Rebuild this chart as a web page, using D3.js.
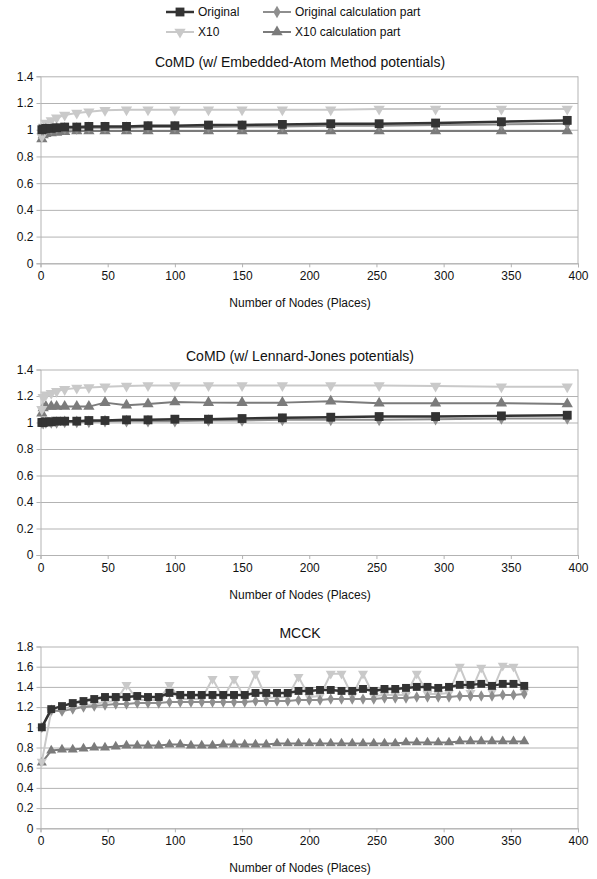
<!DOCTYPE html>
<html>
<head>
<meta charset="utf-8">
<script src="https://cdn.jsdelivr.net/npm/d3@7"></script>
<style>
  body { margin: 0; background: #fff; }
  svg { display: block; font-family: "Liberation Sans", Arial, sans-serif; }
  .tick text { font-size: 12px; fill: #111; }
  .chart-title { font-size: 14px; fill: #111; }
  .axis-title { font-size: 12px; fill: #111; }
  .legend-text { font-size: 12px; fill: #111; }
</style>
</head>
<body>
<div id="chart"></div>
<script>
var seriesNames = ["Original", "Original calculation part", "X10", "X10 calculation part"];

// CoMD node counts
var comdNodes = [1, 2, 4, 8, 12, 18, 27, 36, 48, 64, 80, 100, 125, 150, 180, 216, 252, 294, 343, 392];

// CoMD, Embedded-Atom Method
var eamOriginal     = [1.00, 1.005, 1.01, 1.01, 1.015, 1.02, 1.02, 1.025, 1.025, 1.025, 1.03, 1.03, 1.035, 1.035, 1.04, 1.045, 1.045, 1.05, 1.06, 1.07];
var eamOriginalCalc = [1.00, 1.00, 1.005, 1.005, 1.01, 1.01, 1.01, 1.015, 1.015, 1.015, 1.02, 1.02, 1.02, 1.025, 1.025, 1.03, 1.03, 1.035, 1.04, 1.045];
var eamX10          = [0.95, 1.02, 1.05, 1.07, 1.09, 1.11, 1.125, 1.135, 1.145, 1.15, 1.15, 1.15, 1.15, 1.15, 1.15, 1.15, 1.155, 1.155, 1.155, 1.155];
var eamX10Calc      = [0.93, 0.96, 0.97, 0.975, 0.98, 0.985, 0.99, 0.99, 0.99, 0.99, 0.99, 0.99, 0.99, 0.99, 0.99, 0.99, 0.99, 0.99, 0.99, 0.99];

// CoMD, Lennard-Jones
var ljOriginal     = [1.00, 1.00, 1.005, 1.005, 1.01, 1.01, 1.01, 1.015, 1.015, 1.02, 1.02, 1.025, 1.025, 1.03, 1.035, 1.04, 1.045, 1.045, 1.05, 1.055];
var ljOriginalCalc = [1.00, 0.995, 1.00, 1.00, 1.00, 1.005, 1.005, 1.005, 1.01, 1.01, 1.01, 1.01, 1.015, 1.015, 1.02, 1.02, 1.02, 1.025, 1.03, 1.03];
var ljX10          = [1.10, 1.19, 1.21, 1.22, 1.235, 1.25, 1.26, 1.265, 1.27, 1.275, 1.28, 1.28, 1.28, 1.28, 1.28, 1.28, 1.28, 1.275, 1.27, 1.27];
var ljX10Calc      = [1.07, 1.11, 1.12, 1.12, 1.12, 1.12, 1.12, 1.12, 1.15, 1.13, 1.14, 1.155, 1.15, 1.15, 1.15, 1.16, 1.145, 1.145, 1.145, 1.14];

// MCCK node counts
var mcckNodes = [1, 8, 16, 24, 32, 40, 48, 56, 64, 72,
                 80, 88, 96, 104, 112, 120, 128, 136, 144, 152,
                 160, 168, 176, 184, 192, 200, 208, 216, 224, 232,
                 240, 248, 256, 264, 272, 280, 288, 296, 304, 312,
                 320, 328, 336, 344, 352, 360];

var mcckOriginal = [1.00, 1.18, 1.21, 1.24, 1.26, 1.28, 1.30, 1.30, 1.30, 1.31,
                    1.30, 1.30, 1.34, 1.32, 1.32, 1.32, 1.32, 1.32, 1.32, 1.32,
                    1.34, 1.34, 1.34, 1.34, 1.36, 1.36, 1.37, 1.37, 1.36, 1.36,
                    1.38, 1.36, 1.38, 1.38, 1.39, 1.40, 1.40, 1.39, 1.40, 1.42,
                    1.42, 1.43, 1.41, 1.43, 1.43, 1.41];
var mcckOriginalCalc = [1.00, 1.17, 1.16, 1.18, 1.20, 1.21, 1.22, 1.23, 1.23, 1.24,
                        1.24, 1.24, 1.25, 1.25, 1.25, 1.25, 1.25, 1.25, 1.25, 1.25,
                        1.26, 1.26, 1.26, 1.26, 1.27, 1.27, 1.27, 1.28, 1.28, 1.28,
                        1.28, 1.28, 1.29, 1.29, 1.29, 1.30, 1.30, 1.30, 1.30, 1.31,
                        1.31, 1.31, 1.31, 1.32, 1.32, 1.33];
var mcckX10 = [0.66, 1.16, 1.17, 1.19, 1.21, 1.23, 1.25, 1.26, 1.42, 1.27,
               1.27, 1.27, 1.42, 1.28, 1.28, 1.28, 1.48, 1.29, 1.48, 1.29,
               1.53, 1.29, 1.30, 1.30, 1.50, 1.30, 1.31, 1.53, 1.53, 1.31,
               1.53, 1.31, 1.32, 1.32, 1.32, 1.53, 1.33, 1.33, 1.34, 1.60,
               1.34, 1.59, 1.35, 1.61, 1.60, 1.35];
var mcckX10Calc = [0.65, 0.77, 0.78, 0.78, 0.79, 0.80, 0.80, 0.81, 0.82, 0.82,
                   0.82, 0.82, 0.83, 0.83, 0.82, 0.82, 0.82, 0.83, 0.83, 0.83,
                   0.83, 0.83, 0.84, 0.84, 0.84, 0.84, 0.84, 0.84, 0.84, 0.84,
                   0.84, 0.84, 0.84, 0.84, 0.85, 0.85, 0.85, 0.85, 0.85, 0.86,
                   0.86, 0.86, 0.86, 0.86, 0.86, 0.86];

var xTicks = [0, 50, 100, 150, 200, 250, 300, 350, 400];
var comdYTicks = [0, 0.2, 0.4, 0.6, 0.8, 1, 1.2, 1.4];
var mcckYTicks = [0, 0.2, 0.4, 0.6, 0.8, 1, 1.2, 1.4, 1.6, 1.8];

var WIDTH = 597, HEIGHT = 879;
var PLOT_LEFT = 40.5, PLOT_RIGHT = 578;
var GRID = "#b3b3b3";

var STYLES = [
    { color: "#333333", symbol: d3.symbolSquare,   rotate: 0,   size: 78, width: 2.5 },
    { color: "#8e8e8e", symbol: d3.symbolDiamond,  rotate: 0,   size: 46, width: 2 },
    { color: "#c9c9c9", symbol: d3.symbolTriangle, rotate: 180, size: 55, width: 2 },
    { color: "#7b7b7b", symbol: d3.symbolTriangle, rotate: 0,   size: 55, width: 2 }
];

var svg = d3.select("#chart")
    .append("svg")
    .attr("width", WIDTH)
    .attr("height", HEIGHT);

function drawChart(opts) {
    var x = d3.scaleLinear().domain([0, 400]).range([PLOT_LEFT, PLOT_RIGHT]);
    var y = d3.scaleLinear().domain([0, opts.yMax]).range([opts.bottom, opts.top]);
    var g = svg.append("g").attr("class", "chart");

    // gridlines
    g.append("g")
        .attr("transform", "translate(" + PLOT_LEFT + ",0)")
        .call(d3.axisLeft(y).tickValues(opts.yTicks).tickSize(-(PLOT_RIGHT - PLOT_LEFT)).tickFormat(""))
        .call(function(s) { s.select(".domain").remove(); })
        .selectAll("line").attr("stroke", GRID);

    // right border
    g.append("line")
        .attr("x1", PLOT_RIGHT).attr("x2", PLOT_RIGHT)
        .attr("y1", opts.top).attr("y2", opts.bottom)
        .attr("stroke", GRID);

    // y axis
    var yAxis = g.append("g")
        .attr("transform", "translate(" + PLOT_LEFT + ",0)")
        .call(d3.axisLeft(y).tickValues(opts.yTicks).tickSize(4).tickPadding(3)
            .tickFormat(function(d) { return String(+d.toFixed(1)); }));
    yAxis.selectAll("line, path").attr("stroke", GRID);

    // x axis
    var xAxis = g.append("g")
        .attr("transform", "translate(0," + opts.bottom + ")")
        .call(d3.axisBottom(x).tickValues(xTicks).tickSize(4).tickPadding(4));
    xAxis.selectAll("line, path").attr("stroke", GRID);

    g.selectAll(".tick text").attr("fill", "#111");

    g.append("text")
        .attr("class", "chart-title")
        .attr("x", 300)
        .attr("y", opts.top - 9)
        .attr("text-anchor", "middle")
        .text(opts.title);

    g.append("text")
        .attr("class", "axis-title")
        .attr("x", 300)
        .attr("y", opts.bottom + 44)
        .attr("text-anchor", "middle")
        .text("Number of Nodes (Places)");

    var line = d3.line()
        .x(function(d) { return x(d[0]); })
        .y(function(d) { return y(d[1]); });

    // draw last series first so "Original" sits on top
    for (var i = opts.series.length - 1; i >= 0; i--) {
        var st = STYLES[i];
        var pts = opts.nodes.map(function(n, j) { return [n, opts.series[i][j]]; });

        g.append("path")
            .datum(pts)
            .attr("fill", "none")
            .attr("stroke", st.color)
            .attr("stroke-width", st.width)
            .attr("stroke-linejoin", "round")
            .attr("d", line);

        g.append("g")
            .selectAll("path")
            .data(pts)
            .enter()
            .append("path")
            .attr("d", d3.symbol().type(st.symbol).size(st.size * opts.markerScale))
            .attr("transform", function(d) {
                return "translate(" + x(d[0]) + "," + y(d[1]) + ") rotate(" + st.rotate + ")";
            })
            .attr("fill", st.color);
    }
}

function drawLegend() {
    var cols = [166, 263];
    var rows = [12, 32];
    var legend = svg.append("g").attr("class", "legend");

    var items = legend.selectAll("g.item")
        .data(seriesNames)
        .enter()
        .append("g")
        .attr("class", "item")
        .attr("transform", function(d, i) {
            return "translate(" + cols[i % 2] + "," + rows[Math.floor(i / 2)] + ")";
        });

    items.append("line")
        .attr("x1", 0).attr("x2", 28)
        .attr("stroke", function(d, i) { return STYLES[i].color; })
        .attr("stroke-width", function(d, i) { return STYLES[i].width; });

    items.append("path")
        .attr("d", function(d, i) { return d3.symbol().type(STYLES[i].symbol).size(STYLES[i].size)(); })
        .attr("transform", function(d, i) { return "translate(14,0) rotate(" + STYLES[i].rotate + ")"; })
        .attr("fill", function(d, i) { return STYLES[i].color; });

    items.append("text")
        .attr("class", "legend-text")
        .attr("x", 32)
        .attr("dy", "0.35em")
        .text(function(d) { return d; });
}

drawLegend();

drawChart({
    title: "CoMD (w/ Embedded-Atom Method potentials)",
    top: 76.3, bottom: 263.3, yMax: 1.4, yTicks: comdYTicks,
    nodes: comdNodes, markerScale: 1,
    series: [eamOriginal, eamOriginalCalc, eamX10, eamX10Calc]
});

drawChart({
    title: "CoMD (w/ Lennard-Jones potentials)",
    top: 369.5, bottom: 555, yMax: 1.4, yTicks: comdYTicks,
    nodes: comdNodes, markerScale: 1,
    series: [ljOriginal, ljOriginalCalc, ljX10, ljX10Calc]
});

drawChart({
    title: "MCCK",
    top: 646.5, bottom: 828.3, yMax: 1.8, yTicks: mcckYTicks,
    nodes: mcckNodes, markerScale: 0.8,
    series: [mcckOriginal, mcckOriginalCalc, mcckX10, mcckX10Calc]
});
</script>
</body>
</html>
